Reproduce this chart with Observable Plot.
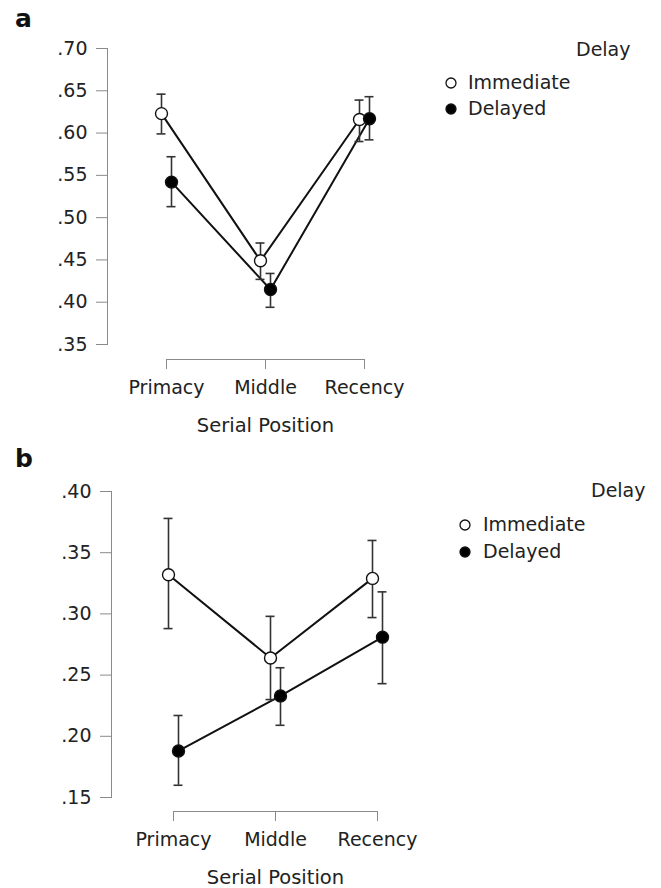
<!DOCTYPE html>
<html>
<head>
<meta charset="utf-8">
<script src="https://cdn.jsdelivr.net/npm/d3@7"></script>
<script src="https://cdn.jsdelivr.net/npm/@observablehq/plot@0.6"></script>
<style>
  html, body { margin: 0; padding: 0; background: #fff; }
  body { font-family: "DejaVu Sans", sans-serif; color: #222; }
  #wrap { position: relative; width: 661px; height: 888px; overflow: hidden; }
  .panel { position: absolute; left: 0; }
  .plabel { position: absolute; font-weight: bold; font-size: 25px; line-height: 1; color: #111; }
  .legend { position: absolute; font-size: 19px; color: #222; }
  .legend .ttl { position: absolute; white-space: nowrap; line-height: 1; }
  .legend .item { position: absolute; white-space: nowrap; line-height: 1; }
</style>
</head>
<body>
<div id="wrap"></div>
<script>
// ---------- data ----------
const positions = ["Primacy", "Middle", "Recency"];
const delays = ["Immediate", "Delayed"];
const xTitle = "Serial Position";
const legendTitle = "Delay";
const panelNames = ["a", "b"];

// Panel a
const aTicks = [0.35, 0.40, 0.45, 0.50, 0.55, 0.60, 0.65, 0.70];
const aImmediateMean = [0.623, 0.449, 0.616];
const aImmediateLo   = [0.599, 0.427, 0.590];
const aImmediateHi   = [0.646, 0.470, 0.639];
const aDelayedMean   = [0.542, 0.415, 0.617];
const aDelayedLo     = [0.513, 0.394, 0.592];
const aDelayedHi     = [0.572, 0.434, 0.643];

// Panel b
const bTicks = [0.15, 0.20, 0.25, 0.30, 0.35, 0.40];
const bImmediateMean = [0.332, 0.264, 0.329];
const bImmediateLo   = [0.288, 0.230, 0.297];
const bImmediateHi   = [0.378, 0.298, 0.360];
const bDelayedMean   = [0.188, 0.233, 0.281];
const bDelayedLo     = [0.160, 0.209, 0.243];
const bDelayedHi     = [0.217, 0.256, 0.318];

// ---------- helpers ----------
function rows(mean, lo, hi) {
  return positions.map((p, i) => ({pos: p, mean: mean[i], lo: lo[i], hi: hi[i]}));
}
const fmt = d => d3.format(".2f")(d).replace(/^0/, "");
const FONT = 19;

function panel(cfg) {
  const series = [
    {name: delays[0], data: cfg.imm, fill: "white", dx: -5},
    {name: delays[1], data: cfg.del, fill: "black", dx: 5}
  ];
  const yMin = cfg.ticks[0];
  const marks = [
    Plot.frame({anchor: "left", stroke: "#8a8a8a"}),
    Plot.axisY({ticks: cfg.ticks, tickFormat: fmt, tickSize: 11, tickPadding: 9,
      stroke: "#8a8a8a", fill: "#222", fontSize: FONT, label: null}),
    Plot.axisX({tickSize: 10, tickPadding: 11, dy: cfg.bracketDy,
      stroke: "#8a8a8a", fill: "#222", fontSize: FONT, label: null}),
    Plot.ruleY([{a: positions[0], b: positions[positions.length - 1], y: yMin}],
      {x1: "a", x2: "b", y: "y", dy: cfg.bracketDy, stroke: "#8a8a8a"}),
    Plot.text([xTitle], {x: () => positions[1], y: () => yMin, dy: cfg.titleDy,
      fontSize: FONT + 0.5, fill: "#222"})
  ];
  for (const s of series) {
    marks.push(Plot.line(s.data, {x: "pos", y: "mean", dx: s.dx, stroke: "#111", strokeWidth: 2}));
  }
  for (const s of series) {
    marks.push(Plot.ruleX(s.data, {x: "pos", y1: "lo", y2: "hi", dx: s.dx, stroke: "#333", strokeWidth: 1.6}));
    marks.push(Plot.ruleY(s.data, {x1: "pos", x2: "pos", y: "lo", dx: s.dx, insetLeft: -4.5, insetRight: -4.5, stroke: "#333", strokeWidth: 1.6}));
    marks.push(Plot.ruleY(s.data, {x1: "pos", x2: "pos", y: "hi", dx: s.dx, insetLeft: -4.5, insetRight: -4.5, stroke: "#333", strokeWidth: 1.6}));
  }
  for (const s of series) {
    marks.push(Plot.dot(s.data, {x: "pos", y: "mean", dx: s.dx, r: 6, fill: s.fill, stroke: "#111", strokeWidth: 1.4}));
  }
  return Plot.plot({
    width: 661,
    height: cfg.height,
    marginLeft: cfg.marginLeft,
    marginRight: cfg.marginRight,
    marginTop: cfg.marginTop,
    marginBottom: cfg.marginBottom,
    style: {fontFamily: "DejaVu Sans, sans-serif", fontSize: FONT + "px", color: "#222", background: "white", overflow: "visible"},
    x: {type: "point", domain: positions, range: cfg.xRange, padding: 0},
    y: {domain: [cfg.ticks[0], cfg.ticks[cfg.ticks.length - 1]]},
    marks
  });
}

function legend(parent, cfg) {
  const L = document.createElement("div");
  L.className = "legend";
  L.style.left = "0px"; L.style.top = "0px";
  const t = document.createElement("div");
  t.className = "ttl";
  t.textContent = legendTitle;
  t.style.left = cfg.titleX + "px";
  t.style.top = (cfg.titleY - 10) + "px";
  L.appendChild(t);
  delays.forEach((d, i) => {
    const it = document.createElement("div");
    it.className = "item";
    it.style.left = (cfg.itemX - 7) + "px";
    it.style.top = (cfg.itemY[i] - 10) + "px";
    const fill = i === 0 ? "white" : "black";
    it.innerHTML = `<svg width="14" height="20" style="vertical-align:top"><circle cx="7" cy="10" r="5" fill="${fill}" stroke="#111" stroke-width="1.3"/></svg>` +
      `<span style="position:absolute;left:${cfg.textX - cfg.itemX + 7}px;top:0px">${d}</span>`;
    L.appendChild(it);
  });
  parent.appendChild(L);
}

const wrap = document.getElementById("wrap");

// Panel a
const pa = panel({
  height: 445, marginLeft: 107, marginRight: 238, marginTop: 48, marginBottom: 101,
  xRange: [166, 364], ticks: aTicks,
  imm: rows(aImmediateMean, aImmediateLo, aImmediateHi),
  del: rows(aDelayedMean, aDelayedLo, aDelayedHi),
  bracketDy: 15, titleDy: 81
});
pa.classList.add("panel"); pa.style.top = "0px";
wrap.appendChild(pa);

// Panel b
const pb = panel({
  height: 443, marginLeft: 111, marginRight: 222, marginTop: 46, marginBottom: 91,
  xRange: [172.7, 377.3], ticks: bTicks,
  imm: rows(bImmediateMean, bImmediateLo, bImmediateHi),
  del: rows(bDelayedMean, bDelayedLo, bDelayedHi),
  bracketDy: 14, titleDy: 80
});
pb.classList.add("panel"); pb.style.top = "445px";
wrap.appendChild(pb);

// Panel letters
[[panelNames[0], 15, 6], [panelNames[1], 15, 446]].forEach(([n, x, y]) => {
  const el = document.createElement("div");
  el.className = "plabel";
  el.textContent = n;
  el.style.left = x + "px"; el.style.top = y + "px";
  wrap.appendChild(el);
});

legend(wrap, {titleX: 576, titleY: 50, itemX: 451, itemY: [83, 109], textX: 468});
legend(wrap, {titleX: 591, titleY: 491, itemX: 465, itemY: [525, 552], textX: 483});
</script>
</body>
</html>
